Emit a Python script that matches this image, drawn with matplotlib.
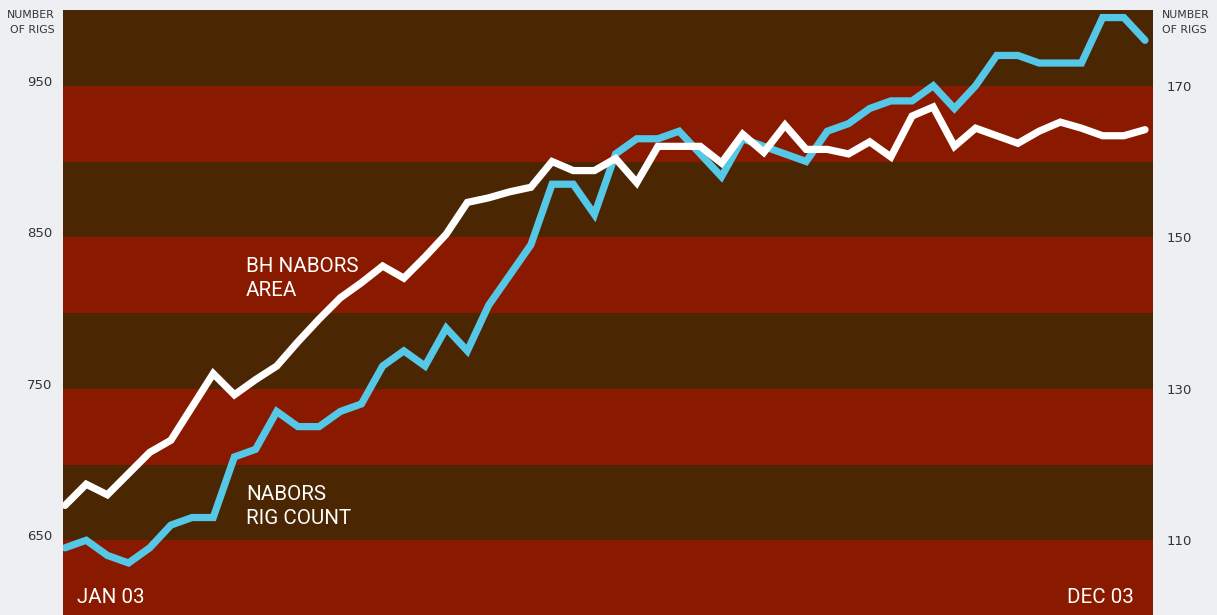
import matplotlib
matplotlib.use("Agg")
import matplotlib.pyplot as plt

# ---- data (weekly, Jan 03 .. Dec 03) ----
weeks = list(range(52))
bh_nabors_area = [673, 687, 680, 694, 708, 716, 738, 760, 746, 756,
                  765, 781, 796, 810, 820, 831, 823, 837, 852, 873,
                  876, 880, 883, 900, 894, 894, 902, 886, 910, 910,
                  910, 899, 918, 906, 924, 908, 908, 905, 913, 903,
                  930, 936, 910, 922, 917, 912, 920, 926, 922, 917,
                  917, 921]
nabors_rig_count = [109, 110, 108, 107, 109, 112, 113, 113, 121, 122,
                    127, 125, 125, 127, 128, 133, 135, 133, 138, 135,
                    141, 145, 149, 157, 157, 153, 161, 163, 163, 164,
                    161, 158, 163, 162, 161, 160, 164, 165, 167, 168,
                    168, 170, 167, 170, 174, 174, 173, 173, 173, 179,
                    179, 176]
left_ticks = [650, 750, 850, 950]
right_ticks = [110, 130, 150, 170]
x_labels = ["JAN 03", "DEC 03"]
series_labels = [["BH NABORS", "AREA"], ["NABORS", "RIG COUNT"]]

W, H = 1217, 615
BROWN = "#4A2602"
RED = "#891A00"
BLUE = "#55C8E8"
BG = "#EDEFF2"
TXT = "#333333"

fig = plt.figure(figsize=(W / 100, H / 100), dpi=100, facecolor=BG)
axL = fig.add_axes([63 / W, -1 / H, 1090 / W, 606 / H])
axR = axL.twinx()

axL.set_ylim(600, 1000)
axR.set_ylim(100, 180)
axL.set_xlim(-2 / 21.18, 51 + 8 / 21.18)

# bands on the lower (right-scale) axes
for i, lo in enumerate(range(100, 180, 10)):
    axR.axhspan(lo, lo + 10, color=RED if i % 2 == 0 else BROWN, lw=0, zorder=0)

axR.plot(weeks, nabors_rig_count, color=BLUE, lw=5.2,
         solid_capstyle="round", solid_joinstyle="miter", zorder=3)

# white line on top
axL.set_zorder(axR.get_zorder() + 1)
axL.patch.set_visible(False)
axL.plot(weeks, bh_nabors_area, color="white", lw=5.2,
         solid_capstyle="round", solid_joinstyle="miter", zorder=3)

for ax in (axL, axR):
    for s in ax.spines.values():
        s.set_visible(False)
    ax.set_xticks([])

axL.set_yticks(left_ticks)
axL.set_yticklabels([str(t) for t in left_ticks])
axL.tick_params(axis="y", length=0, pad=7.5, labelsize=9.5, labelcolor=TXT)
for lbl in axL.get_yticklabels():
    lbl.set_va("baseline")
    lbl.set_fontfamily("DejaVu Sans")

axR.set_yticks(right_ticks)
axR.set_yticklabels([str(t) for t in right_ticks])
axR.tick_params(axis="y", length=0, pad=10, labelsize=9.5, labelcolor=TXT)
for lbl in axR.get_yticklabels():
    lbl.set_va("center_baseline")
    lbl.set_fontfamily("DejaVu Sans")

def px(x, y):
    return x / W, 1 - y / H

# axis titles
for (x, y, ha) in [(55, 18, "right"), (1162, 18, "left")]:
    fig.text(*px(x, y), "NUMBER", ha=ha, va="baseline", fontsize=7.8,
             color=TXT, family="DejaVu Sans")
    fig.text(*px(x, y + 15), "OF RIGS", ha=ha, va="baseline", fontsize=7.8,
             color=TXT, family="DejaVu Sans")

# series labels
tk = dict(color="white", fontsize=14.8, family="Roboto", va="baseline")
fig.text(*px(246, 272), series_labels[0][0], ha="left", **tk)
fig.text(*px(246, 296), series_labels[0][1], ha="left", **tk)
fig.text(*px(246, 500), series_labels[1][0], ha="left", **tk)
fig.text(*px(246, 524), series_labels[1][1], ha="left", **tk)

# date labels
fig.text(*px(77, 603), x_labels[0], ha="left", **tk)
fig.text(*px(1134, 603), x_labels[1], ha="right", **tk)

fig.savefig("out.png", dpi=100, facecolor=BG)
